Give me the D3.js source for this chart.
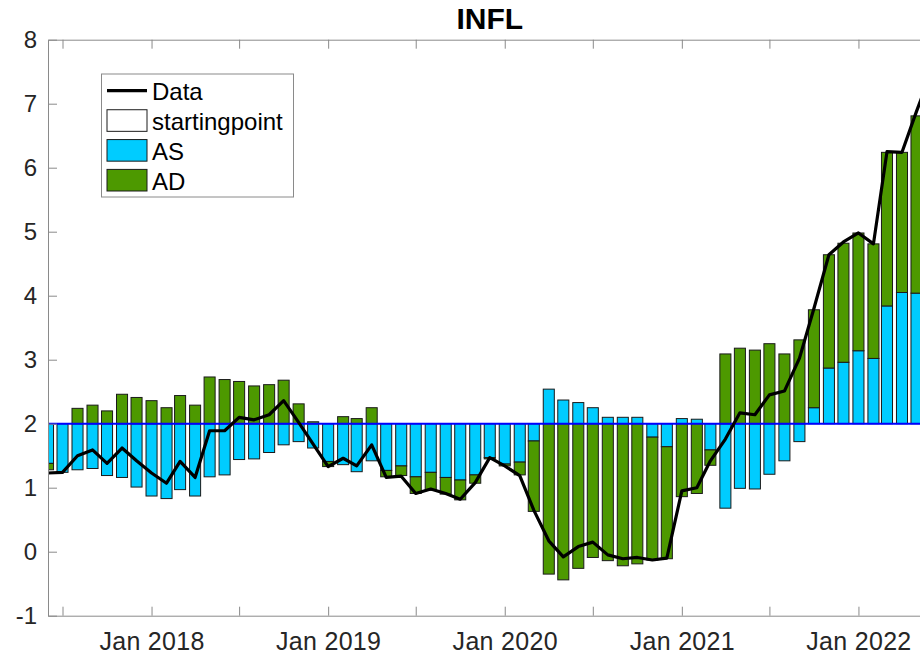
<!DOCTYPE html>
<html>
<head>
<meta charset="utf-8">
<script src="https://cdn.jsdelivr.net/npm/d3@7"></script>
<style>
  body { margin: 0; background: #fff; }
  svg { display: block; font-family: "Liberation Sans", Arial, Helvetica, sans-serif; }
</style>
</head>
<body>
<svg width="920" height="656"></svg>
<script>
// DATA
const months = [
  "2017-06","2017-07","2017-08","2017-09","2017-10","2017-11","2017-12",
  "2018-01","2018-02","2018-03","2018-04","2018-05","2018-06","2018-07","2018-08","2018-09","2018-10","2018-11","2018-12",
  "2019-01","2019-02","2019-03","2019-04","2019-05","2019-06","2019-07","2019-08","2019-09","2019-10","2019-11","2019-12",
  "2020-01","2020-02","2020-03","2020-04","2020-05","2020-06","2020-07","2020-08","2020-09","2020-10","2020-11","2020-12",
  "2021-01","2021-02","2021-03","2021-04","2021-05","2021-06","2021-07","2021-08","2021-09","2021-10","2021-11","2021-12",
  "2022-01","2022-02","2022-03","2022-04","2022-05","2022-06"
];
const inflData = [
  1.23, 1.24, 1.50, 1.59, 1.38, 1.62, 1.42,
  1.23, 1.07, 1.41, 1.16, 1.89, 1.89, 2.10, 2.06, 2.14, 2.36, 2.02, 1.68,
  1.33, 1.46, 1.34, 1.67, 1.16, 1.18, 0.91, 0.98, 0.91, 0.82, 1.08, 1.47,
  1.34, 1.19, 0.65, 0.17, -0.08, 0.08, 0.15, -0.05, -0.11, -0.09, -0.13, -0.10,
  0.95, 1.00, 1.42, 1.76, 2.17, 2.14, 2.45, 2.51, 3.02, 3.80, 4.64, 4.84,
  4.98, 4.81, 6.25, 6.24, 6.88, 7.50
];
const asContrib = [
  -0.62, -0.76, -0.72, -0.70, -0.81, -0.84, -0.99,
  -1.13, -1.17, -1.03, -1.13, -0.83, -0.80, -0.56, -0.55, -0.45, -0.33, -0.28, -0.38,
  -0.59, -0.64, -0.75, -0.58, -0.73, -0.66, -0.83, -0.76, -0.84, -0.88, -0.80, -0.53,
  -0.63, -0.60, -0.27, 0.54, 0.37, 0.33, 0.25, 0.10, 0.10, 0.10, -0.21, -0.36,
  0.08, 0.07, -0.41, -1.32, -1.01, -1.02, -0.79, -0.58, -0.28, 0.25, 0.87, 0.96,
  1.14, 1.02, 1.84, 2.05, 2.04, 2.20
];
const adContrib = [
  -0.10, 0.00, 0.24, 0.29, 0.20, 0.46, 0.41,
  0.36, 0.25, 0.44, 0.29, 0.73, 0.69, 0.66, 0.59, 0.61, 0.68, 0.31, 0.03,
  -0.08, 0.11, 0.08, 0.25, -0.10, -0.15, -0.26, -0.28, -0.26, -0.31, -0.13, -0.02,
  -0.03, -0.20, -1.10, -2.35, -2.44, -2.26, -2.09, -2.14, -2.22, -2.19, -1.92, -1.75,
  -1.14, -1.09, -0.24, 1.09, 1.18, 1.15, 1.25, 1.09, 1.31, 1.53, 1.77, 1.86,
  1.84, 1.79, 2.40, 2.19, 2.77, 3.30
];
const startingPoint = 2;
const yTicks = [-1, 0, 1, 2, 3, 4, 5, 6, 7, 8];
const xTickDates = ["2017-07","2018-01","2018-07","2019-01","2019-07","2020-01","2020-07","2021-01","2021-07","2022-01"];
const legendItems = ["Data", "startingpoint", "AS", "AD"];

const colors = { AS: "#00ccff", AD: "#4d9900" };

const svg = d3.select("svg");
const parseMonth = d3.timeParse("%Y-%m");

const plotLeft = 48, plotRight = 931.5, plotTop = 39.7, plotBottom = 615.7;

const rows = months.map((m, i) => ({
  date: parseMonth(m),
  AS: asContrib[i],
  AD: adContrib[i],
  infl: inflData[i]
}));

// SCALES
const xScale = d3.scaleTime()
  .domain([parseMonth("2017-06"), parseMonth("2022-06")])
  .range([plotLeft, plotRight]);
const yScale = d3.scaleLinear().domain([-1, 8]).range([plotBottom, plotTop]);

const barWidth = (plotRight - plotLeft) / 60 * 0.75;

// CLIP
svg.append("clipPath").attr("id", "plot-clip")
  .append("rect")
  .attr("x", plotLeft).attr("y", plotTop)
  .attr("width", plotRight - plotLeft).attr("height", plotBottom - plotTop);

const plot = svg.append("g").attr("clip-path", "url(#plot-clip)");

// BARS (diverging stack around the starting point)
const series = d3.stack()
  .keys(["AS", "AD"])
  .offset(d3.stackOffsetDiverging)(rows);

plot.selectAll("g.series")
  .data(series)
  .join("g")
  .attr("class", "series")
  .attr("fill", d => colors[d.key])
  .selectAll("rect")
  .data(d => d.filter(p => p[1] !== p[0]))
  .join("rect")
  .attr("x", d => xScale(d.data.date) - barWidth / 2)
  .attr("y", d => yScale(startingPoint + d[1]))
  .attr("width", barWidth)
  .attr("height", d => yScale(startingPoint + d[0]) - yScale(startingPoint + d[1]))
  .attr("stroke", "#1a1a1a")
  .attr("stroke-width", 1);

// BASELINE
plot.append("line")
  .attr("x1", plotLeft).attr("x2", plotRight)
  .attr("y1", yScale(startingPoint)).attr("y2", yScale(startingPoint))
  .attr("stroke", "#0000ff")
  .attr("stroke-width", 2);

// DATA LINE
plot.append("path")
  .datum(rows)
  .attr("fill", "none")
  .attr("stroke", "#000")
  .attr("stroke-width", 3.2)
  .attr("stroke-linejoin", "round")
  .attr("d", d3.line().x(d => xScale(d.date)).y(d => yScale(d.infl)));

// AXES
const axisColor = "#8a8a8a";
const tickDates = xTickDates.map(parseMonth);

const xAxis = svg.append("g")
  .attr("transform", `translate(0,${plotBottom})`)
  .call(d3.axisBottom(xScale)
    .tickValues(tickDates)
    .tickSizeInner(-9)
    .tickSizeOuter(0)
    .tickPadding(17)
    .tickFormat(d => d.getMonth() === 0 ? d3.timeFormat("Jan %Y")(d) : ""));

const xTop = svg.append("g")
  .attr("transform", `translate(0,${plotTop})`)
  .call(d3.axisTop(xScale)
    .tickValues(tickDates)
    .tickSizeInner(-9)
    .tickSizeOuter(0)
    .tickFormat(""));

const yAxis = svg.append("g")
  .attr("transform", `translate(${plotLeft},0)`)
  .call(d3.axisLeft(yScale)
    .tickValues(yTicks)
    .tickSizeInner(-9)
    .tickSizeOuter(0)
    .tickPadding(11)
    .tickFormat(d => String(d)));

[xAxis, xTop, yAxis].forEach(g => {
  g.selectAll("path.domain").attr("stroke", axisColor);
  g.selectAll(".tick line").attr("stroke", axisColor);
  g.selectAll(".tick text")
    .attr("fill", "#262626")
    .attr("font-size", "24px")
    .attr("font-family", "\"Liberation Sans\", Arial, sans-serif");
});
xAxis.selectAll(".tick text").attr("font-size", "25px").attr("letter-spacing", "0.3px");

// TITLE
svg.append("text")
  .attr("x", (plotLeft + plotRight) / 2)
  .attr("y", 29)
  .attr("text-anchor", "middle")
  .attr("font-size", "30px")
  .attr("font-weight", "bold")
  .attr("fill", "#000")
  .text("INFL");

// LEGEND
const legend = svg.append("g");
legend.append("rect")
  .attr("x", 101.5).attr("y", 74)
  .attr("width", 192).attr("height", 123)
  .attr("fill", "#fff")
  .attr("stroke", axisColor)
  .attr("stroke-width", 1);

const rowY = d3.scaleLinear().domain([0, 3]).range([90.7, 180.2]);

legendItems.forEach((name, i) => {
  const cy = rowY(i);
  if (name === "Data") {
    legend.append("line")
      .attr("x1", 107).attr("x2", 147)
      .attr("y1", cy).attr("y2", cy)
      .attr("stroke", "#000").attr("stroke-width", 3.2);
  } else {
    legend.append("rect")
      .attr("x", 107).attr("y", cy - 10.8)
      .attr("width", 40).attr("height", 21.6)
      .attr("fill", name === "startingpoint" ? "#fff" : colors[name])
      .attr("stroke", "#1a1a1a").attr("stroke-width", 1);
  }
  legend.append("text")
    .attr("x", 152)
    .attr("y", cy + 9.5)
    .attr("font-size", "24px")
    .attr("fill", "#000")
    .text(name);
});
</script>
</body>
</html>
